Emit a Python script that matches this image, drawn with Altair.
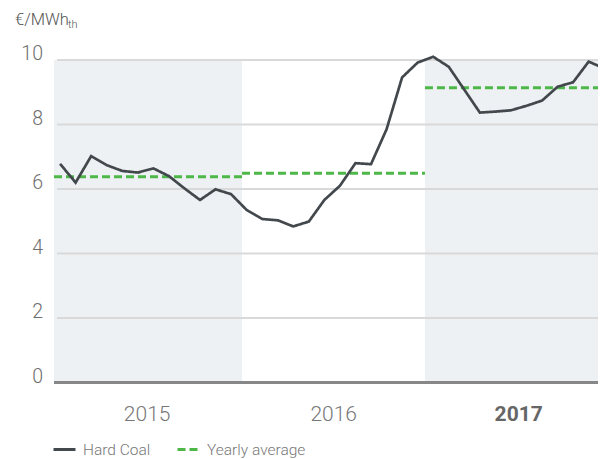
import altair as alt
import pandas as pd

# ---- data ----
month_idx = list(range(36))
hard_coal = [6.78, 6.20, 7.02, 6.74, 6.56, 6.51, 6.64, 6.40, 6.02, 5.66, 5.99, 5.84,
             5.35, 5.07, 5.03, 4.84, 4.99, 5.66, 6.10, 6.80, 6.77, 7.85, 9.46, 9.92,
             10.10, 9.79, 9.08, 8.37, 8.40, 8.44, 8.58, 8.74, 9.17, 9.31, 9.95, 9.74]
years = ["2015", "2016", "2017"]
year_start = [-0.39, 11.7, 23.47]
year_end = [11.7, 23.47, 35.1]
year_label_pos = [5.6, 17.6, 29.5]
year_avg = [6.38, 6.49, 9.14]
shaded = [True, False, True]
bold_year = [False, False, True]
y_ticks = [0, 2, 4, 6, 8, 10]

W, H = 544, 322.5
FONT = "Roboto"

line_df = pd.DataFrame({"m": month_idx, "v": hard_coal, "series": "Hard Coal"})
year_df = pd.DataFrame({"year": years, "start": year_start, "end": year_end,
                        "mid": year_label_pos, "avg": year_avg, "shaded": shaded,
                        "bold": bold_year, "series": "Yearly average"})
grid_df = pd.DataFrame({"t": y_ticks, "lbl": [str(t) for t in y_ticks]})

xscale = alt.Scale(domain=[-0.39, 34.6], nice=False, zero=False)
yscale = alt.Scale(domain=[0, 10], nice=False)

series_color = alt.Color("series:N",
    scale=alt.Scale(domain=["Hard Coal", "Yearly average"], range=["#43484d", "#4db848"]),
    legend=alt.Legend(title=None, orient="none", legendX=-2, legendY=377,
                      direction="horizontal", symbolType="stroke", symbolSize=484,
                      symbolStrokeWidth=3, labelFontSize=15.5, labelColor="#777777",
                      labelFont=FONT, labelFontWeight=300, labelOffset=6,
                      columnPadding=20, padding=0))


def series_dash():
    return alt.StrokeDash("series:N",
        scale=alt.Scale(domain=["Hard Coal", "Yearly average"], range=[[1, 0], [8, 4]]),
        legend=None)


bands = alt.Chart(year_df).transform_filter("datum.shaded").mark_rect(
    color="#eef1f4", clip=True).encode(
    x=alt.X("start:Q", scale=xscale, axis=None),
    x2="end:Q",
    y=alt.Y(datum=10, scale=yscale, axis=None),
    y2=alt.Y2(datum=0),
)

grid = alt.Chart(grid_df).transform_filter("datum.t > 0").mark_rule(
    color="#d9d9d9", strokeWidth=2).encode(
    y=alt.Y("t:Q", scale=yscale, axis=None),
    x=alt.value(3), x2=alt.value(W),
)

ylabels = alt.Chart(grid_df).mark_text(
    fontSize=19.5, font=FONT, fontWeight=300, color="#6e6e6e", align="right",
    baseline="alphabetic").encode(
    y=alt.Y("t:Q", scale=yscale, axis=None),
    x=alt.value(-11),
    text="lbl:N",
)

zero = alt.Chart(grid_df).transform_filter("datum.t == 0").mark_rule(
    color="#878787", strokeWidth=3).encode(
    y=alt.Y("t:Q", scale=yscale, axis=None),
    x=alt.value(0), x2=alt.value(W),
)

avg = alt.Chart(year_df).mark_rule(strokeWidth=3, clip=True).encode(
    x=alt.X("start:Q", scale=xscale, axis=None),
    x2="end:Q",
    y=alt.Y("avg:Q", scale=yscale, axis=None),
    color=series_color,
    strokeDash=series_dash(),
)

line = alt.Chart(line_df).mark_line(strokeWidth=2.7).encode(
    x=alt.X("m:Q", scale=xscale, axis=None),
    y=alt.Y("v:Q", scale=yscale, axis=None),
    color=series_color,
    strokeDash=series_dash(),
)

year_lbl = alt.Chart(year_df).transform_filter("!datum.bold").mark_text(
    fontSize=21, font=FONT, fontWeight=300, color="#777777", baseline="alphabetic",
    align="center").encode(
    x=alt.X("mid:Q", scale=xscale, axis=None),
    y=alt.value(361),
    text="year:N",
)
year_lbl_b = alt.Chart(year_df).transform_filter("datum.bold").mark_text(
    fontSize=21, font=FONT, fontWeight="bold", color="#666666", baseline="alphabetic",
    align="center").encode(
    x=alt.X("mid:Q", scale=xscale, axis=None),
    y=alt.value(361),
    text="year:N",
)

unit_df = pd.DataFrame({"u": ["€/MWh"], "s": ["th"]})
unit_main = alt.Chart(unit_df).mark_text(
    fontSize=16.5, font=FONT, fontWeight=300, color="#555555", align="left",
    baseline="alphabetic").encode(x=alt.value(-39), y=alt.value(-35), text="u:N")
unit_sub = alt.Chart(unit_df).mark_text(
    fontSize=11, font=FONT, fontWeight=300, color="#555555", align="left",
    baseline="alphabetic").encode(x=alt.value(14), y=alt.value(-32), text="s:N")

chart = alt.layer(bands, grid, zero, ylabels, avg, line, year_lbl, year_lbl_b,
                  unit_main, unit_sub).properties(
    width=W, height=H,
    autosize=alt.AutoSizeParams(type="none"),
    padding={"left": 46, "top": 52, "right": 0, "bottom": 78},
).configure_view(stroke=None).resolve_scale(strokeDash="shared", color="shared")

chart.save("out.html", embed_options={"renderer": "svg", "actions": False})
